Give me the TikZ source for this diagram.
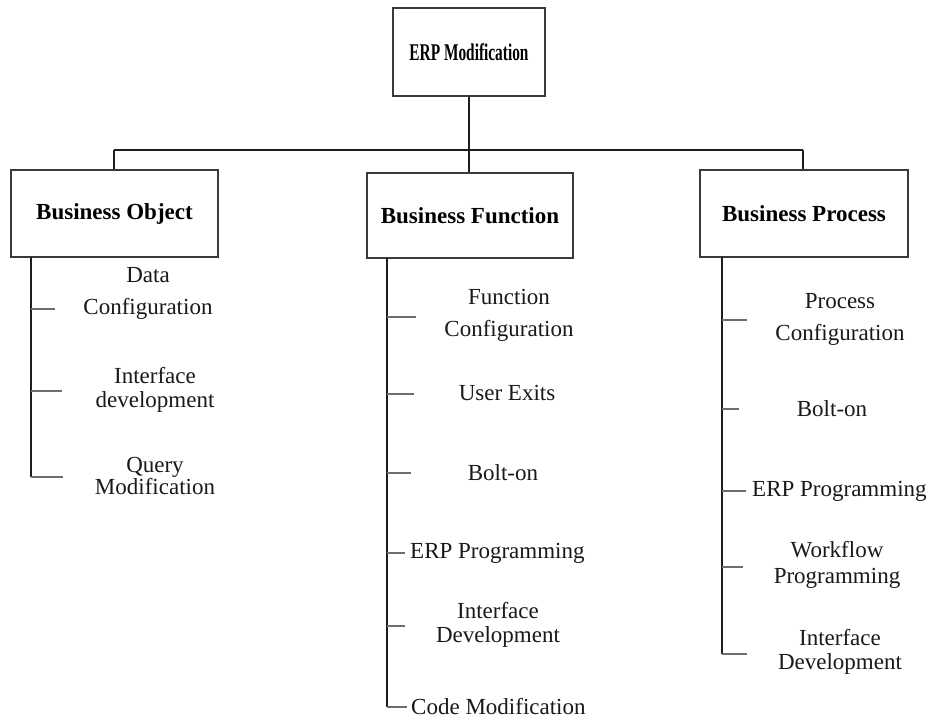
\documentclass[tikz,border=0pt]{standalone}
\usepackage{fontspec}
\usepackage{graphicx}
\setmainfont{Liberation Serif}
\begin{document}
\begin{tikzpicture}[x=1pt,y=-1pt,
  box/.style={draw=boxc, line width=1.2pt, minimum width=#1, inner sep=0pt},
  box/.default=207pt,
  head/.style={font=\fontsize{23}{26}\selectfont\bfseries},
  lbl/.style={font=\fontsize{23}{32}\selectfont, align=center, inner sep=0pt, text=black!90},
  tight/.style={font=\fontsize{23}{24}\selectfont, align=center, inner sep=0pt, text=black!90},
  trunk/.style={draw=trunkc, line width=1.2pt},
  branch/.style={draw=branchc, line width=1.3pt}]
\definecolor{boxc}{HTML}{3A3A3A}
\definecolor{trunkc}{HTML}{1E1E1E}
\definecolor{branchc}{HTML}{6E6E6E}
\useasboundingbox[fill=white] (0,0) rectangle (928,719);

% boxes
\node[box=152pt, minimum height=88pt] (erp) at (469,52)
  {\fontsize{24}{26}\selectfont\bfseries\scalebox{0.64}[1]{ERP Modification}};
\node[box=207pt, minimum height=87pt, head] (bo) at (114.5,213.5) {Business Object};
\node[box=206pt, minimum height=85pt, head] (bf) at (470,215.5) {Business Function};
\node[box=208pt, minimum height=87pt, head] (bp) at (804,213.5) {Business Process};

% top connectors
\coordinate (barl) at (114,150);
\coordinate (barr) at (803,150);
\draw[trunk] (erp.south) -- (erp.south |- bf.north);
\draw[trunk] (barl) -- (barr);
\draw[trunk] (barl) -- (barl |- bo.north);
\draw[trunk] (barr) -- (barr |- bp.north);

% ---------- Business Object column
\node[lbl] (bo1) at (148,293) {Data\\Configuration};
\node[tight] (bo2) at (155,390) {Interface\\development};
\node[font=\fontsize{23}{22}\selectfont, align=center, inner sep=0pt, text=black!90] (bo3) at (155,476) {Query\\Modification};
\coordinate (bot) at (31,257);
\coordinate (bo1a) at (31,309);  \coordinate (bo1b) at (55,309);
\coordinate (bo2a) at (31,391);  \coordinate (bo2b) at (62,391);
\coordinate (bo3a) at (31,477);  \coordinate (bo3b) at (63,477);
\draw[trunk] (bot) -- (bo3a);
\draw[branch] (bo1a) -- (bo1b);
\draw[branch] (bo2a) -- (bo2b);
\draw[branch] (bo3a) -- (bo3b);

% ---------- Business Function column
\node[lbl] (bf1) at (509,315) {Function\\Configuration};
\node[lbl] (bf2) at (507,393) {User Exits};
\node[lbl] (bf3) at (503,473) {Bolt-on};
\node[lbl, anchor=west] (bf4) at (410,553) {ERP Programming};
\node[tight] (bf5) at (498,625) {Interface\\Development};
\node[lbl, anchor=west] (bf6) at (411,707) {Code Modification};
\coordinate (bft) at (387,258);
\coordinate (bf1a) at (387,317);  \coordinate (bf1b) at (416,317);
\coordinate (bf2a) at (387,394);  \coordinate (bf2b) at (414,394);
\coordinate (bf3a) at (387,473);  \coordinate (bf3b) at (411,473);
\coordinate (bf4a) at (387,553);  \coordinate (bf4b) at (405,553);
\coordinate (bf5a) at (387,626);  \coordinate (bf5b) at (405,626);
\coordinate (bf6a) at (387,707);  \coordinate (bf6b) at (407,707);
\draw[trunk] (bft) -- (bf6a);
\draw[branch] (bf1a) -- (bf1b);
\draw[branch] (bf2a) -- (bf2b);
\draw[branch] (bf3a) -- (bf3b);
\draw[branch] (bf4a) -- (bf4b);
\draw[branch] (bf5a) -- (bf5b);
\draw[branch] (bf6a) -- (bf6b);

% ---------- Business Process column
\node[lbl] (bp1) at (840,319) {Process\\Configuration};
\node[lbl] (bp2) at (832,409) {Bolt-on};
\node[lbl, anchor=west] (bp3) at (752,491) {ERP Programming};
\node[font=\fontsize{23}{26}\selectfont, align=center, inner sep=0pt, text=black!90] (bp4) at (837,565) {Workflow\\Programming};
\node[tight] (bp5) at (840,652) {Interface\\Development};
\coordinate (bpt) at (722,257);
\coordinate (bp1a) at (722,320);  \coordinate (bp1b) at (747,320);
\coordinate (bp2a) at (722,409);  \coordinate (bp2b) at (739,409);
\coordinate (bp3a) at (722,491);  \coordinate (bp3b) at (746,491);
\coordinate (bp4a) at (722,567);  \coordinate (bp4b) at (743,567);
\coordinate (bp5a) at (722,654);  \coordinate (bp5b) at (747,654);
\draw[trunk] (bpt) -- (bp5a);
\draw[branch] (bp1a) -- (bp1b);
\draw[branch] (bp2a) -- (bp2b);
\draw[branch] (bp3a) -- (bp3b);
\draw[branch] (bp4a) -- (bp4b);
\draw[branch] (bp5a) -- (bp5b);
\end{tikzpicture}
\end{document}
